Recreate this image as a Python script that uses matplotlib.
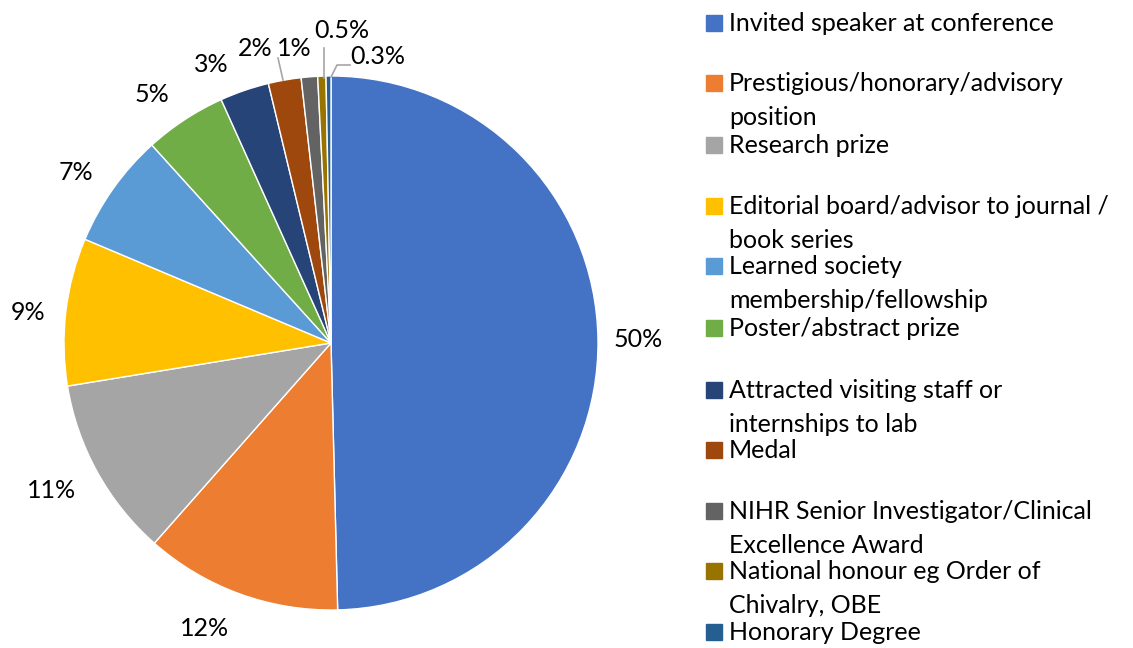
import matplotlib.pyplot as plt
import numpy as np

# data
categories = ["Invited speaker at conference",
              "Prestigious/honorary/advisory\nposition",
              "Research prize",
              "Editorial board/advisor to journal /\nbook series",
              "Learned society\nmembership/fellowship",
              "Poster/abstract prize",
              "Attracted visiting staff or\ninternships to lab",
              "Medal",
              "NIHR Senior Investigator/Clinical\nExcellence Award",
              "National honour eg Order of\nChivalry, OBE",
              "Honorary Degree"]
values = [50, 12, 11, 9, 7, 5, 3, 2, 1, 0.5, 0.3]
labels = ["50%", "12%", "11%", "9%", "7%", "5%", "3%", "2%", "1%", "0.5%", "0.3%"]
colors = ["#4472C4", "#ED7D31", "#A5A5A5", "#FFC000", "#5B9BD5", "#70AD47",
          "#264478", "#9E480E", "#636363", "#997300", "#255E91"]

plt.rcParams['font.family'] = ['Lato', 'DejaVu Sans']
FS = 18

W, H = 1133, 648
fig = plt.figure(figsize=(W / 100, H / 100), dpi=100)

# pie axes, center (331,343), radius 267 px
cx, cy, r = 331, 343, 267
ax = fig.add_axes([(cx - r) / W, (H - cy - r) / H, 2 * r / W, 2 * r / H])

def px(x, y):
    # pixel position -> pie data coords
    return (x - cx) / r, (cy - y) / r

wedges, _ = ax.pie(values, colors=colors, startangle=90, counterclock=False,
                   radius=1, center=(0, 0), frame=False,
                   wedgeprops=dict(edgecolor='white', linewidth=1))
ax.set_xlim(-1, 1)
ax.set_ylim(-1, 1)
ax.axis('off')

# data labels, placed like Excel's best fit
label_pos = {1: px(205, 628), 2: px(52, 490), 3: px(28, 313), 4: px(76, 173),
             5: px(152, 95), 6: px(211, 64), 7: px(255, 49), 8: px(294, 49),
             9: px(342, 30), 10: px(378, 57)}
for i, w in enumerate(wedges):
    ang = np.deg2rad((w.theta1 + w.theta2) / 2)
    x, y = 1.15 * np.cos(ang), 1.15 * np.sin(ang)
    if i in label_pos:
        x, y = label_pos[i]
    ax.text(x, y, labels[i], ha='center', va='center', fontsize=FS,
            color='black', clip_on=False)

# leader lines
leaders = [[(278, 58), (283, 80)],
           [(324, 48), (324, 78)],
           [(350, 65), (337, 65), (331, 77)]]
for seg in leaders:
    pts = [px(*p) for p in seg]
    ax.plot([p[0] for p in pts], [p[1] for p in pts], color='#A6A6A6',
            lw=1.2, clip_on=False)

# legend, drawn by hand to follow the original spacing (first-line baselines)
leg_base = [31, 91, 153, 214, 274, 336, 398, 458, 519, 579, 640]
line_gap = 34
for col, txt, yb in zip(colors, categories, leg_base):
    fig.patches.append(plt.Rectangle((706 / W, 1 - yb / H), 16 / W, 16 / H,
                                     transform=fig.transFigure, color=col))
    for k, line in enumerate(txt.split("\n")):
        fig.text(729 / W, 1 - (yb + k * line_gap) / H, line, ha='left',
                 va='baseline', fontsize=FS, color='black')

fig.savefig('out.png', dpi=100)
